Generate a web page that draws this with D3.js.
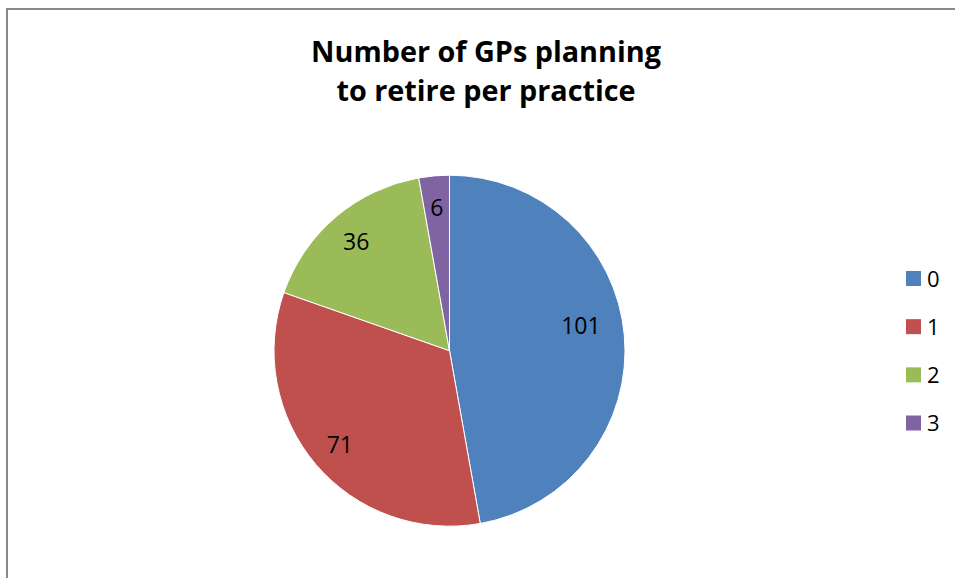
<!DOCTYPE html>
<html>
<head>
<meta charset="utf-8">
<script src="https://cdn.jsdelivr.net/npm/d3@7"></script>
<style>
  html, body { margin: 0; padding: 0; background: #ffffff; }
  svg { display: block; }
  text { font-family: "Open Sans", "Liberation Sans", sans-serif; fill: #000; }
</style>
</head>
<body>
<svg id="chart" width="955" height="578"></svg>
<script>
// Practices by number of GPs planning to retire
const categories = ["0", "1", "2", "3"];
const counts = [101, 71, 36, 6];
const colors = ["#4F81BD", "#C0504D", "#9BBB59", "#8064A2"];
const titleLines = ["Number of GPs planning", "to retire per practice"];

const width = 955, height = 578;
const svg = d3.select("#chart");

// chart frame (runs off the right and bottom edges)
svg.append("rect")
  .attr("x", 7).attr("y", 9)
  .attr("width", 970).attr("height", 600)
  .attr("fill", "#fff")
  .attr("stroke", "#898989")
  .attr("stroke-width", 2);

// title
const title = svg.append("text")
  .attr("text-anchor", "middle")
  .attr("font-weight", "bold")
  .attr("font-size", 28.8);
title.selectAll("tspan")
  .data(titleLines)
  .join("tspan")
  .attr("x", 486)
  .attr("y", (d, i) => 62 + i * 39)
  .text(d => d);

// pie
const cx = 449.5, cy = 350.7, R = 175.5;
const data = categories.map((c, i) => ({ cat: c, value: counts[i], color: colors[i] }));

const pie = d3.pie().value(d => d.value).sort(null);
const arcs = pie(data);
const arc = d3.arc().innerRadius(0).outerRadius(R);
const labelArc = d3.arc().innerRadius(R * 0.82).outerRadius(R * 0.82);

const g = svg.append("g").attr("transform", `translate(${cx},${cy})`);

g.selectAll("path.slice")
  .data(arcs)
  .join("path")
  .attr("class", "slice")
  .attr("d", arc)
  .attr("fill", d => d.data.color)
  .attr("stroke", "#ffffff")
  .attr("stroke-width", 1);

// data labels; the large slice label sits a little up and inward of its centroid
const labelNudge = { "0": [-12, -13] };
g.selectAll("text.value")
  .data(arcs)
  .join("text")
  .attr("class", "value")
  .attr("text-anchor", "middle")
  .attr("dominant-baseline", "central")
  .attr("font-size", 23)
  .attr("transform", d => {
    const [x, y] = labelArc.centroid(d);
    const [nx, ny] = labelNudge[d.data.cat] || [0, 0];
    return `translate(${x + nx},${y + ny})`;
  })
  .text(d => d.data.value);

// legend
const legendY = d3.scalePoint().domain(categories).range([278.5, 423]);
const legend = svg.append("g");
const items = legend.selectAll("g")
  .data(data)
  .join("g")
  .attr("transform", d => `translate(906,${legendY(d.cat)})`);
items.append("rect")
  .attr("x", 0).attr("y", -7.5)
  .attr("width", 15).attr("height", 15)
  .attr("fill", d => d.color);
items.append("text")
  .attr("x", 21)
  .attr("y", 8.2)
  .attr("font-size", 22)
  .text(d => d.cat);
</script>
</body>
</html>
